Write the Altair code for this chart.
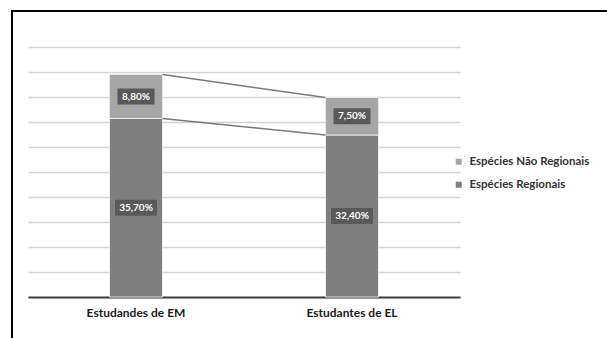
import altair as alt
import pandas as pd

categories = ["Estudandes de EM", "Estudantes de EL"]
series = ["Espécies Regionais", "Espécies Não Regionais"]
regionais = [35.7, 32.4]
nao_regionais = [8.8, 7.5]

rows = []
for i, c in enumerate(categories):
    for s, vals, o in [(series[0], regionais, 0), (series[1], nao_regionais, 1)]:
        v = vals[i]
        rows.append({"cat": c, "serie": s, "valor": v, "ord": o,
                     "rotulo": f"{v:.2f}".replace(".", ",") + "%"})
df = pd.DataFrame(rows)

conn = pd.DataFrame({
    "c1": [categories[0], categories[0]],
    "c2": [categories[1], categories[1]],
    "y1": [regionais[0] + nao_regionais[0], regionais[0]],
    "y2": [regionais[1] + nao_regionais[1], regionais[1]],
})

FONT = "Lato"
xscale = alt.Scale(domain=categories, paddingInner=0.755, paddingOuter=0.3775)
yscale = alt.Scale(domain=[0, 50])
color_scale = alt.Scale(domain=[series[1], series[0]], range=["#a6a6a6", "#7f7f7f"])

X = alt.X("cat:N", scale=xscale, sort=categories, title=None)

base = alt.Chart(df)

bars = base.mark_bar(stroke="#e8e8e8", strokeWidth=1).encode(
    x=X,
    y=alt.Y("valor:Q", stack="zero", scale=yscale, title=None),
    color=alt.Color("serie:N", scale=color_scale,
                    legend=alt.Legend(title=None, orient="none", legendX=425, legendY=109,
                                      symbolType="square", symbolSize=36, symbolStrokeWidth=0,
                                      labelFont=FONT, labelFontSize=11.5, labelFontWeight="bold",
                                      labelColor="#333333", rowPadding=10, labelOffset=5)),
    order=alt.Order("ord:Q", sort="ascending"),
)

stacked = base.transform_stack(
    stack="valor", groupby=["cat"], as_=["v0", "v1"], sort=[alt.SortField("ord", "ascending")]
).transform_calculate(mid="(datum.v0 + datum.v1) / 2")

Y_MID = alt.Y("mid:Q", scale=yscale, title=None)

boxes_small = stacked.transform_filter("datum.valor < 10").mark_rect(
    color="#595959", width=37, yOffset=-8, y2Offset=8
).encode(x=X, y=Y_MID, y2="mid:Q")
boxes_big = stacked.transform_filter("datum.valor >= 10").mark_rect(
    color="#595959", width=42, yOffset=-8, y2Offset=8
).encode(x=X, y=Y_MID, y2="mid:Q")

labels = stacked.mark_text(color="white", font=FONT, fontSize=10, fontWeight="bold",
                           baseline="middle", align="center").encode(
    x=X, y=Y_MID, text="rotulo:N",
)

lines = alt.Chart(conn).mark_rule(color="#7a7a7a", strokeWidth=1.5, xOffset=26.5, x2Offset=-26.5).encode(
    x=alt.X("c1:N", scale=xscale, sort=categories, title=None),
    x2="c2:N",
    y=alt.Y("y1:Q", scale=yscale, title=None),
    y2="y2:Q",
)

frame = alt.Chart(pd.DataFrame({"a": [0]})).mark_rect(
    fill="transparent", stroke="black", strokeWidth=2
).encode(x=alt.value(-16), x2=alt.value(700), y=alt.value(-36), y2=alt.value(500))

chart = alt.layer(bars, lines, boxes_small, boxes_big, labels, frame).properties(
    width=432, height=250,
    background="white",
    autosize=alt.AutoSizeParams(type="none"),
    padding={"left": 28, "top": 47, "right": 147, "bottom": 41},
).configure_view(
    strokeWidth=0
).configure_axisX(
    labelAngle=0, ticks=False, domainColor="#404040", domainWidth=2,
    labelFont=FONT, labelFontSize=12, labelFontWeight="bold",
    labelColor="#1a1a1a", labelPadding=10, grid=False,
).configure_axisY(
    labels=False, ticks=False, domain=False, tickCount=10,
    gridColor="#d4d4d4", gridWidth=1.5,
)

chart.save("out.html", embed_options={"renderer": "svg", "actions": False})
